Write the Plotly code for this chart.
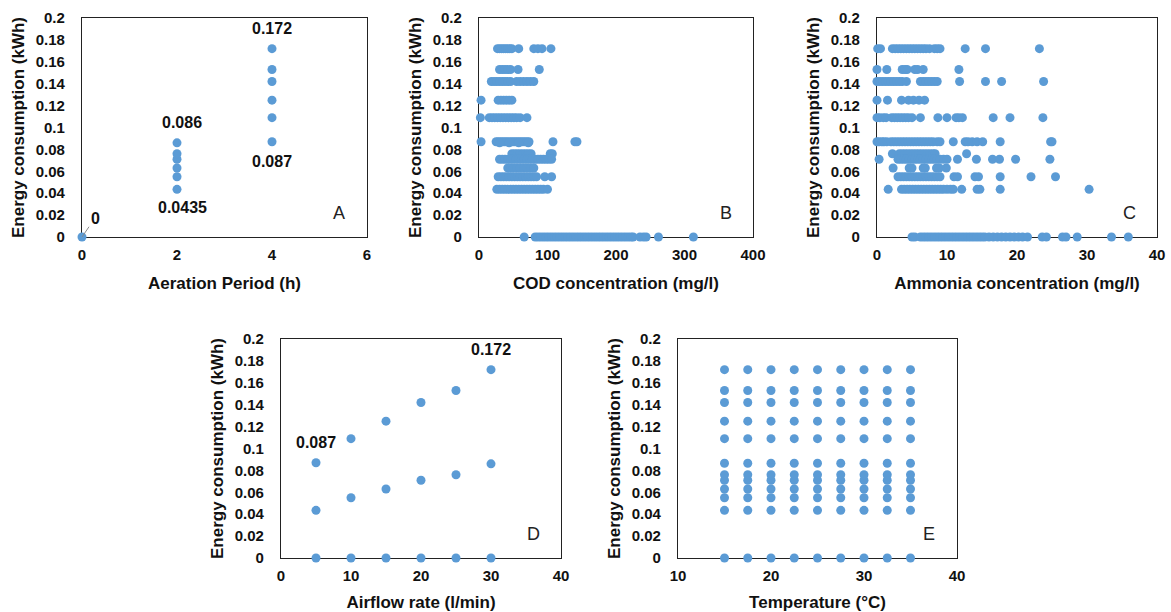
import plotly.graph_objects as go

# ---------------- data ----------------
energy_2h = [0.0435, 0.055, 0.063, 0.071, 0.076, 0.086]
energy_4h = [0.087, 0.109, 0.125, 0.142, 0.153, 0.172]

# A: aeration period
aeration_hours = [0, 2, 4]

# B: COD concentration (mg/l) of samples at each energy level
cod = {
    0.172: [27, 30, 33, 36, 39, 42, 45, 48, 58, 80, 86, 92, 105],
    0.153: [30, 34, 38, 42, 46, 57, 88],
    0.142: [18, 22, 26, 30, 34, 38, 42, 46, 55, 60, 65, 70, 75, 80],
    0.125: [3, 28, 32, 36, 40, 44, 48],
    0.109: [2, 15, 19, 23, 27, 31, 35, 39, 43, 47, 51, 55, 60, 70],
    0.087: [3, 25, 28, 31, 34, 37, 40, 43, 46, 49, 52, 55, 58, 61, 64, 67, 70, 73, 108, 140, 143],
    0.086: [30, 44, 58, 72],
    0.076: [48, 52, 56, 60, 64, 68, 72, 76, 104, 107],
    0.071: [30, 34, 38, 42, 46, 50, 54, 58, 62, 66, 70, 74, 78, 82, 86, 90, 94, 98, 102, 106],
    0.063: [42, 46, 50, 55, 60, 65, 70, 75, 80],
    0.055: [28, 32, 36, 40, 44, 48, 52, 56, 60, 64, 68, 72, 76, 80, 84, 96, 106],
    0.0435: [26, 30, 34, 38, 42, 46, 50, 54, 58, 62, 66, 70, 74, 78, 82, 86, 90, 94, 100],
    0: [66, 82, 86, 90, 94, 98, 102, 106, 110, 114, 118, 122, 126, 130, 134, 138, 142, 146, 150,
        154, 158, 162, 166, 170, 174, 178, 182, 186, 190, 194, 198, 202, 206, 210, 214, 218, 222,
        225, 235, 240, 244, 262, 313],
}

# C: Ammonia concentration (mg/l) of samples at each energy level
ammonia = {
    0.172: [0.1, 0.5, 2.2, 2.6, 3.0, 3.4, 3.8, 4.2, 4.6, 5.0, 5.4, 5.8, 6.2, 6.6, 7.0, 7.5, 8.2, 8.6, 9.0, 12.6, 15.5, 23.2],
    0.153: [0.0, 1.4, 3.6, 4.0, 4.3, 5.4, 5.8, 6.6, 11.7],
    0.142: [0.0, 0.4, 0.8, 1.2, 1.6, 2.0, 2.4, 2.8, 3.2, 3.6, 4.2, 6.2, 6.6, 7.0, 7.4, 7.8, 8.2, 8.6, 11.8, 15.5, 17.8, 23.8],
    0.125: [0.0, 1.5, 3.5, 4.5, 5.2, 6.0, 6.8],
    0.109: [0.0, 0.4, 0.9, 1.3, 2.1, 2.5, 2.9, 3.3, 3.7, 4.1, 4.5, 5.0, 6.2, 8.7, 10.0, 11.3, 11.7, 12.2, 16.6, 19.0, 23.7],
    0.087: [0.0, 0.3, 0.7, 1.0, 1.4, 2.0, 2.4, 2.8, 3.2, 3.6, 4.0, 4.4, 4.8, 5.2, 5.6, 6.0, 6.4, 6.8, 7.2,
            7.6, 8.0, 8.6, 9.0, 10.9, 12.6, 13.0, 13.6, 14.3, 15.1, 17.6, 24.8, 25.0],
    0.076: [2.2, 3.2, 3.6, 4.0, 4.4, 4.8, 5.2, 5.6, 6.0, 6.4, 6.8, 7.2, 7.6, 8.0, 8.3, 12.8],
    0.071: [0.3, 3.0, 3.4, 3.8, 4.2, 4.6, 5.0, 5.4, 5.8, 6.2, 6.6, 7.0, 7.4, 7.8, 8.2, 8.6, 9.0, 9.5, 10.0,
            11.5, 14.2, 16.5, 17.5, 19.8, 24.7],
    0.063: [2.3, 4.6, 5.0, 6.6, 6.9, 8.5, 8.9, 9.9],
    0.055: [3.0, 3.4, 3.8, 4.2, 4.6, 5.0, 5.4, 5.8, 6.2, 6.6, 7.0, 7.4, 7.8, 8.2, 8.6, 9.0, 11.0, 11.5,
            14.0, 14.5, 17.6, 22.0, 25.5],
    0.0435: [1.6, 3.5, 3.9, 4.3, 4.7, 5.1, 5.5, 5.9, 6.3, 6.7, 7.1, 7.5, 7.9, 8.3, 8.7, 9.1, 9.5, 10.0,
             10.5, 10.9, 12.1, 14.3, 14.7, 17.6, 30.3],
    0: [5.0, 5.4, 6.2, 6.6, 7.0, 7.4, 7.8, 8.2, 8.6, 9.0, 9.4, 9.8, 10.2, 10.6, 11.0, 11.4, 11.8, 12.2,
        12.6, 13.0, 13.4, 13.8, 14.2, 14.6, 15.0, 15.4, 16.0, 16.6, 17.2, 17.8, 18.4, 19.0, 19.6, 20.2,
        20.8, 21.5, 23.6, 24.2, 26.5, 27.0, 28.6, 33.5, 35.9],
}

# D: airflow rate (l/min)
airflow = [5, 10, 15, 20, 25, 30]

# E: temperature (°C)
temperature = [15, 17.5, 20, 22.5, 25, 27.5, 30, 32.5, 35]
energy_e = [0, 0.0435, 0.055, 0.063, 0.071, 0.076, 0.0865, 0.109, 0.125, 0.142, 0.153, 0.172]

y_ticks = [0, 0.02, 0.04, 0.06, 0.08, 0.1, 0.12, 0.14, 0.16, 0.18, 0.2]
y_tick_text = ["0", "0.02", "0.04", "0.06", "0.08", "0.1", "0.12", "0.14", "0.16", "0.18", "0.2"]
y_title = "Energy consumption (kWh)"

# ---------------- figure ----------------
BLUE = "#5B9BD5"
FONT = "Liberation Sans, Arial, sans-serif"
marker = dict(color=BLUE, size=9)

fig = go.Figure()

# A
xa = [aeration_hours[0]] + [aeration_hours[1]] * len(energy_2h) + [aeration_hours[2]] * len(energy_4h)
ya = [0] + energy_2h + energy_4h
fig.add_trace(go.Scatter(x=xa, y=ya, mode="markers", marker=marker, xaxis="x", yaxis="y", cliponaxis=False))

# B
xb, yb = [], []
for lvl, vals in cod.items():
    xb += vals
    yb += [lvl] * len(vals)
fig.add_trace(go.Scatter(x=xb, y=yb, mode="markers", marker=marker, xaxis="x2", yaxis="y2", cliponaxis=False))

# C
xc, yc = [], []
for lvl, vals in ammonia.items():
    xc += vals
    yc += [lvl] * len(vals)
fig.add_trace(go.Scatter(x=xc, y=yc, mode="markers", marker=marker, xaxis="x3", yaxis="y3", cliponaxis=False))

# D
xd = airflow * 3
yd = energy_4h + energy_2h + [0] * len(airflow)
fig.add_trace(go.Scatter(x=xd, y=yd, mode="markers", marker=marker, xaxis="x4", yaxis="y4", cliponaxis=False))

# E
xe, ye = [], []
for t in temperature:
    xe += [t] * len(energy_e)
    ye += energy_e
fig.add_trace(go.Scatter(x=xe, y=ye, mode="markers", marker=marker, xaxis="x5", yaxis="y5", cliponaxis=False))

W, H = 1171, 612
def px_dom_x(a, b):
    return [a / W, b / W]
def px_dom_y(top, bottom):
    return [1 - bottom / H, 1 - top / H]

tickfont = dict(family=FONT, size=15, color="#111", weight="bold")
titlefont = dict(family=FONT, size=17, color="#111", weight="bold")

def xaxis(dom, rng, dtick, title, anchor):
    return dict(domain=dom, range=rng, dtick=dtick, tick0=rng[0], showgrid=False, zeroline=False,
                showline=True, linecolor="#222", linewidth=1.3, mirror=True, ticks="",
                tickfont=tickfont, ticklabelstandoff=4, layer="below traces", automargin=False,
                title=dict(text=title, font=titlefont, standoff=14), anchor=anchor, fixedrange=True)

def yaxis(dom, anchor):
    return dict(domain=dom, range=[0, 0.2], tickvals=y_ticks, ticktext=y_tick_text, showgrid=False,
                zeroline=False, showline=True, linecolor="#222", linewidth=1.3, mirror=True, ticks="",
                tickfont=tickfont, ticklabelstandoff=13, layer="below traces", automargin=False,
                title=dict(text=y_title, font=titlefont, standoff=6), anchor=anchor, fixedrange=True)

top_y = px_dom_y(18, 237)
bot_y = px_dom_y(339, 558)

layout = dict(
    width=W, height=H, margin=dict(l=0, r=0, t=0, b=0, autoexpand=False),
    paper_bgcolor="white", plot_bgcolor="white", showlegend=False,
    xaxis=xaxis(px_dom_x(82, 367), [0, 6], 2, "Aeration Period (h)", "y"),
    yaxis=yaxis(top_y, "x"),
    xaxis2=xaxis(px_dom_x(479, 753), [0, 400], 100, "COD concentration (mg/l)", "y2"),
    yaxis2=yaxis(top_y, "x2"),
    xaxis3=xaxis(px_dom_x(877, 1157), [0, 40], 10, "Ammonia concentration (mg/l)", "y3"),
    yaxis3=yaxis(top_y, "x3"),
    xaxis4=xaxis(px_dom_x(281, 561), [0, 40], 10, "Airflow rate (l/min)", "y4"),
    yaxis4=yaxis(bot_y, "x4"),
    xaxis5=xaxis(px_dom_x(678, 957), [10, 40], 10, "Temperature (°C)", "y5"),
    yaxis5=yaxis(bot_y, "x5"),
)
fig.update_layout(**layout)

labfont = dict(family=FONT, size=16, color="#111", weight="bold")
letfont = dict(family=FONT, size=18, color="#222")

ann = []
# panel letters
for i, letter in enumerate(["A", "B", "C", "D", "E"]):
    sfx = "" if i == 0 else str(i + 1)
    ann.append(dict(text=letter, xref=f"x{sfx} domain", yref=f"y{sfx} domain", x=0.9, y=0.11,
                    showarrow=False, font=letfont, xanchor="center", yanchor="middle"))
# value labels A
ann.append(dict(text="0.172", x=4, y=energy_4h[-1], xref="x", yref="y", showarrow=False, yshift=20, font=labfont))
ann.append(dict(text="0.087", x=4, y=energy_4h[0], xref="x", yref="y", showarrow=False, yshift=-20, font=labfont))
ann.append(dict(text="0.086", x=2, y=energy_2h[-1], xref="x", yref="y", showarrow=False, yshift=20, xshift=5, font=labfont))
ann.append(dict(text="0.0435", x=2, y=energy_2h[0], xref="x", yref="y", showarrow=False, yshift=-18, xshift=5, font=labfont))
ann.append(dict(text="0", x=0, y=0, xref="x", yref="y", showarrow=True, arrowhead=0, arrowwidth=1,
                arrowcolor="#8a8a8a", ax=13, ay=-19, font=labfont))
# value labels D
ann.append(dict(text="0.087", x=airflow[0], y=energy_4h[0], xref="x4", yref="y4", showarrow=False, yshift=20, font=labfont))
ann.append(dict(text="0.172", x=airflow[-1], y=energy_4h[-1], xref="x4", yref="y4", showarrow=False, yshift=20, font=labfont))
fig.update_layout(annotations=ann)

fig.write_html("out.html")
